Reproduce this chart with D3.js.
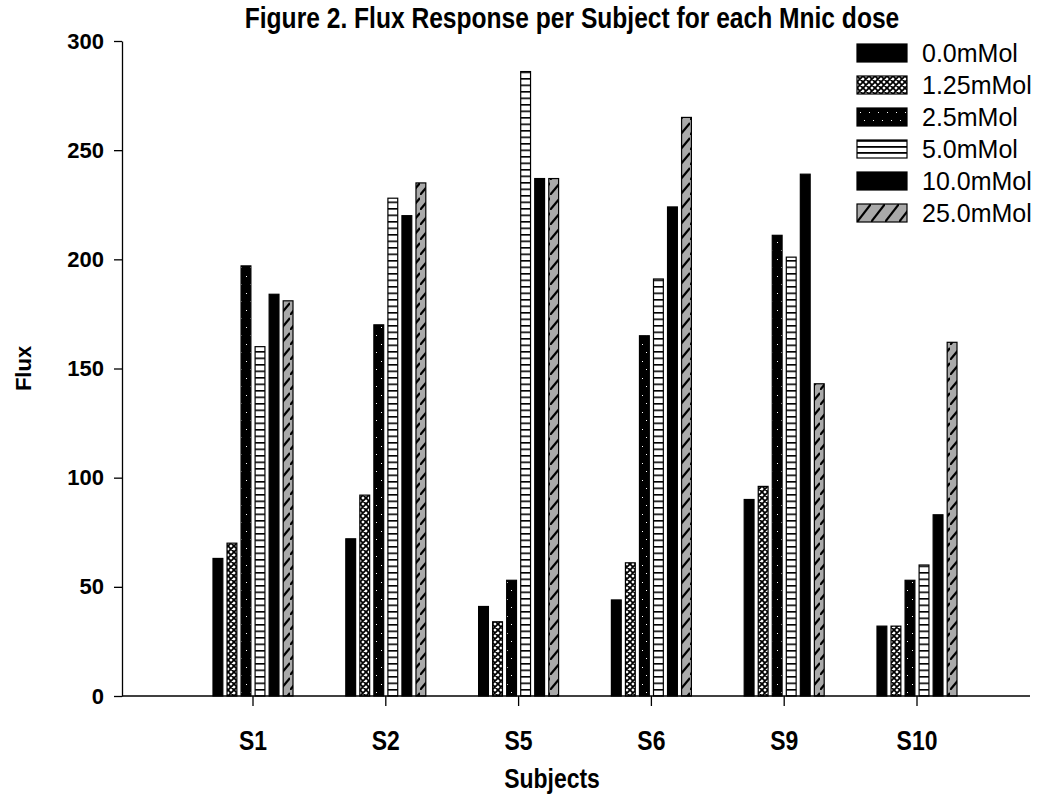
<!DOCTYPE html>
<html>
<head>
<meta charset="utf-8">
<script src="https://cdn.jsdelivr.net/npm/d3@7"></script>
<style>
  body { margin: 0; background: #fff; }
  svg text { fill: #000; }
</style>
</head>
<body>
<svg id="chart" width="1042" height="796"></svg>
<script>
const subjects = ["S1", "S2", "S5", "S6", "S9", "S10"];
const doses = ["0.0mMol", "1.25mMol", "2.5mMol", "5.0mMol", "10.0mMol", "25.0mMol"];
// one array per dose, values in subject order
const dose0 = [63, 72, 41, 44, 90, 32];
const dose125 = [70, 92, 34, 61, 96, 32];
const dose25 = [197, 170, 53, 165, 211, 53];
const dose5 = [160, 228, 286, 191, 201, 60];
const dose10 = [184, 220, 237, 224, 239, 83];
const dose250 = [181, 235, 237, 265, 143, 162];
const yTicks = [0, 50, 100, 150, 200, 250, 300];

const series = [dose0, dose125, dose25, dose5, dose10, dose250];

const svg = d3.select("#chart");
const width = 1042, height = 796;
const margin = { top: 41, right: 12, bottom: 100, left: 122 };
const sansFont = "'Liberation Sans', Arial, sans-serif";
const narrow = 0.82; // squeeze bold text to look like a narrow face

// patterns for the six doses
const defs = svg.append("defs");

let p = defs.append("pattern").attr("id", "pat-cross")
    .attr("patternUnits", "userSpaceOnUse").attr("width", 6).attr("height", 6);
p.append("rect").attr("width", 6).attr("height", 6).attr("fill", "#fff");
p.append("path").attr("d", "M0,0L6,6M6,0L0,6M-1,5L1,7M5,-1L7,1")
    .attr("stroke", "#000").attr("stroke-width", 1.8);

p = defs.append("pattern").attr("id", "pat-speck")
    .attr("patternUnits", "userSpaceOnUse").attr("width", 9).attr("height", 17);
p.append("rect").attr("width", 9).attr("height", 17).attr("fill", "#000");
p.append("rect").attr("x", 3).attr("y", 4).attr("width", 1).attr("height", 1).attr("fill", "#fff");
p.append("rect").attr("x", 7).attr("y", 12).attr("width", 1).attr("height", 1).attr("fill", "#fff");

p = defs.append("pattern").attr("id", "pat-ladder")
    .attr("patternUnits", "userSpaceOnUse").attr("width", 6).attr("height", 6.5);
p.append("rect").attr("width", 6).attr("height", 6.5).attr("fill", "#fff");
p.append("rect").attr("width", 6).attr("height", 1.6).attr("fill", "#000");

p = defs.append("pattern").attr("id", "pat-diag")
    .attr("patternUnits", "userSpaceOnUse").attr("width", 10).attr("height", 15);
p.append("rect").attr("width", 10).attr("height", 15).attr("fill", "#a9a9a9");
p.append("path").attr("d", "M0,15L10,3").attr("stroke", "#000").attr("stroke-width", 2.2);

// legend swatches are wider, use slightly bigger patterns there
p = defs.append("pattern").attr("id", "pat-ladder-lg")
    .attr("patternUnits", "userSpaceOnUse").attr("width", 50).attr("height", 6);
p.append("rect").attr("width", 50).attr("height", 6).attr("fill", "#fff");
p.append("rect").attr("width", 50).attr("height", 1.8).attr("fill", "#000");

p = defs.append("pattern").attr("id", "pat-diag-lg")
    .attr("patternUnits", "userSpaceOnUse").attr("width", 14).attr("height", 18);
p.append("rect").attr("width", 14).attr("height", 18).attr("fill", "#a9a9a9");
p.append("path").attr("d", "M0,18L14,0").attr("stroke", "#000").attr("stroke-width", 2.2);

const fills = ["#000", "url(#pat-cross)", "url(#pat-speck)", "url(#pat-ladder)", "#000", "url(#pat-diag)"];
const legendFills = ["#000", "url(#pat-cross)", "url(#pat-speck)", "url(#pat-ladder-lg)", "#000", "url(#pat-diag-lg)"];

// scales
const x0 = d3.scaleBand()
    .domain(subjects)
    .range([186.6, 983.4]);

const groupWidth = 80;
const x1 = d3.scaleBand()
    .domain(doses)
    .range([(x0.bandwidth() - groupWidth) / 2, (x0.bandwidth() + groupWidth) / 2])
    .paddingInner(0.3);

const y = d3.scaleLinear()
    .domain([0, 300])
    .range([height - margin.bottom, margin.top]);

// bars
doses.forEach((dose, i) => {
    svg.append("g")
        .selectAll("rect")
        .data(series[i])
        .join("rect")
        .attr("x", (d, j) => x0(subjects[j]) + x1(dose))
        .attr("y", d => y(d))
        .attr("width", x1.bandwidth())
        .attr("height", d => y(0) - y(d))
        .attr("fill", fills[i])
        .attr("stroke", "#000")
        .attr("stroke-width", 1.2);
});

// y axis
svg.append("g")
    .attr("transform", `translate(${margin.left},0)`)
    .call(d3.axisLeft(y).tickValues(yTicks).tickSize(8).tickSizeOuter(0).tickPadding(10))
    .call(g => g.select(".domain").attr("stroke-width", 1.3))
    .call(g => g.selectAll(".tick line").attr("stroke-width", 1.3))
    .call(g => g.selectAll(".tick text")
        .style("font-family", sansFont)
        .style("font-weight", "bold")
        .style("font-size", "22px"));

// x axis line across the whole plot
svg.append("line")
    .attr("x1", margin.left).attr("x2", width - margin.right)
    .attr("y1", y(0)).attr("y2", y(0))
    .attr("stroke", "#000").attr("stroke-width", 1.3);

svg.append("g")
    .attr("transform", `translate(0,${y(0)})`)
    .call(d3.axisBottom(x0).tickSize(10).tickPadding(24).tickSizeOuter(0))
    .call(g => g.select(".domain").remove())
    .call(g => g.selectAll(".tick line").attr("stroke-width", 1.3))
    .call(g => g.selectAll(".tick text")
        .attr("transform", `scale(${narrow},1)`)
        .style("font-family", sansFont)
        .style("font-weight", "bold")
        .style("font-size", "28px"));

// titles
svg.append("text")
    .attr("transform", `translate(572,28) scale(${narrow},1)`)
    .attr("text-anchor", "middle")
    .style("font-family", sansFont)
    .style("font-weight", "bold")
    .style("font-size", "30px")
    .text("Figure 2. Flux Response per Subject for each Mnic dose");

svg.append("text")
    .attr("transform", `translate(552,788) scale(${narrow},1)`)
    .attr("text-anchor", "middle")
    .style("font-family", sansFont)
    .style("font-weight", "bold")
    .style("font-size", "28px")
    .text("Subjects");

svg.append("text")
    .attr("transform", `translate(31,${(y(0) + y(300)) / 2}) rotate(-90)`)
    .attr("text-anchor", "middle")
    .style("font-family", sansFont)
    .style("font-weight", "bold")
    .style("font-size", "22px")
    .text("Flux");

// legend
const legend = svg.append("g")
    .selectAll("g")
    .data(doses)
    .join("g")
    .attr("transform", (d, i) => `translate(857,${44 + i * 32})`);

legend.append("rect")
    .attr("width", 50).attr("height", 18)
    .attr("fill", (d, i) => legendFills[i])
    .attr("stroke", "#000").attr("stroke-width", 1.2);

legend.append("text")
    .attr("x", 65).attr("y", 9)
    .attr("dy", "0.35em")
    .style("font-family", sansFont)
    .style("font-size", "25px")
    .text(d => d);
</script>
</body>
</html>
